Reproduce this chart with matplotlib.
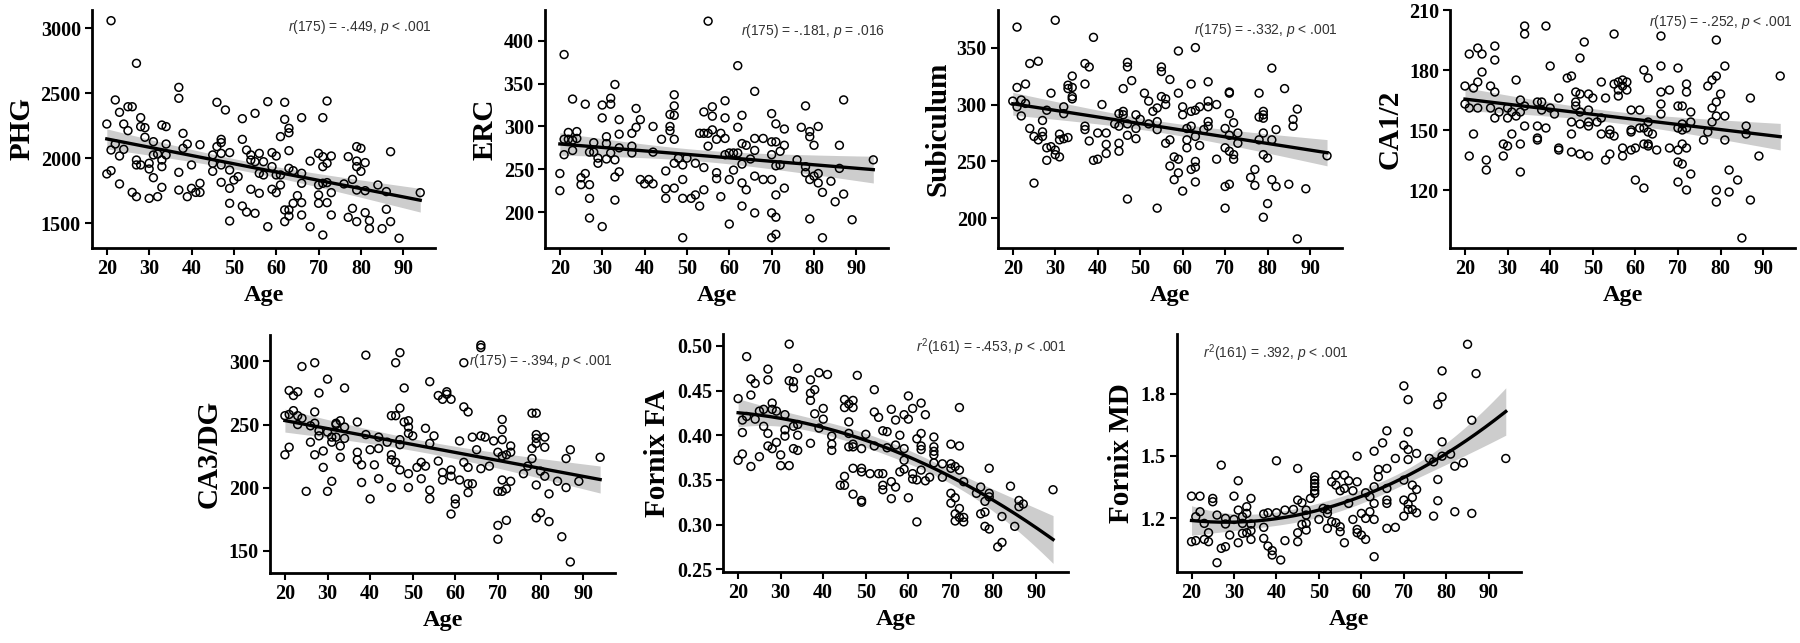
import numpy as np
import matplotlib.pyplot as plt

plt.rcParams['font.family'] = 'Liberation Serif'
plt.rcParams['font.weight'] = 'bold'
plt.rcParams['mathtext.fontset'] = 'custom'
plt.rcParams['mathtext.rm'] = 'Liberation Sans:normal'
plt.rcParams['mathtext.it'] = 'Liberation Sans:italic:normal'

# (age, value) pairs, one list per panel
phg_points = [(21,3059),(27,2731),(20,2264),(21,1905),(20,1880),(22,2449),(23,2354),(24,2264),(25,2213),(25,2397),
    (26,2397),(28,2313),(28,2244),(29,2236),(29,2162),(22,2110),(21,2064),(23,2018),(24,2069),(27,1987),(27,1949),
    (28,1949),(30,1962),(30,1918),(23,1803),(26,1738),(27,1705),(30,1692),(31,1851),(31,2128),(32,1705),(33,1777),
    (33,2256),(34,2244),(34,2110),(34,2026),(33,1987),(33,1936),(32,2033),(31,2026),(37,2546),(37,2462),(38,2192),
    (38,2077),(39,2110),(37,1892),(37,1756),(39,1705),(40,1949),(40,1769),(41,1738),(42,1738),(42,1808),(42,2105),
    (46,2431),(48,2372),(45,2026),(45,1962),(45,1900),(46,2090),(47,2146),(47,2121),(47,2038),(47,1949),(47,1815),
    (49,2044),(49,1910),(49,1769),(49,1654),(49,1518),(50,1833),(51,1859),(52,2305),(52,2146),(52,1633),(53,1587),
    (53,2064),(54,2026),(54,1987),(54,1762),(55,2346),(55,1577),(55,1974),(56,2038),(56,1885),(56,1731),(57,1974),
    (57,1872),(58,1474),(58,2436),(59,2044),(59,1936),(59,1762),(60,2018),(60,1872),(60,1736),(61,2167),(61,1872),
    (61,1795),(62,2431),(62,2300),(62,1603),(62,1513),(63,2231),(63,2197),(63,2059),(63,1923),(63,1603),(63,1556),
    (64,1654),(64,1905),(65,1713),(66,2313),(66,1885),(66,1808),(66,1659),(66,1564),(68,1474),(68,1979),(70,2038),
    (70,1795),(70,1718),(70,1654),(71,2313),(71,2013),(71,1936),(71,1808),(71,1410),(72,2441),(72,1962),(72,1813),
    (72,1659),(73,2018),(73,1736),(73,1564),(76,1803),(77,2013),(77,1546),(78,1838),(78,1615),(79,2090),(79,1979),
    (79,1936),(79,1756),(79,1513),(80,2077),(80,1900),(81,1967),(81,1751),(81,1582),(82,1521),(82,1459),(84,1795),
    (85,1459),(86,1744),(86,1608),(87,2051),(87,1513),(89,1385),(94,1736)]

erc_points = [(55,423),(21,384),(62,371),(20,245),(20,225),(21,267),(21,285),(22,293),(22,285),(23,332),(23,272),
    (23,284),(24,294),(24,286),(25,240),(25,232),(26,326),(26,245),(27,270),(27,232),(27,216),(27,193),(28,281),
    (28,270),(29,263),(29,257),(30,325),(30,310),(30,183),(31,288),(31,280),(31,262),(32,333),(32,326),(32,269),
    (33,349),(33,261),(33,241),(33,214),(34,308),(34,291),(34,275),(34,247),(37,292),(37,277),(37,269),(38,321),
    (38,299),(39,308),(39,238),(40,233),(41,238),(42,300),(42,270),(42,233),(44,285),(45,248),(45,227),(45,216),
    (46,314),(46,300),(46,295),(47,337),(47,324),(47,313),(47,285),(47,257),(47,228),(48,263),(49,255),(49,238),
    (49,216),(49,170),(50,263),(51,216),(52,257),(52,220),(53,292),(53,207),(54,292),(54,317),(54,252),(54,226),
    (55,292),(55,277),(56,323),(56,312),(56,296),(57,285),(57,246),(57,239),(58,292),(58,218),(59,330),(59,310),
    (59,286),(59,267),(60,269),(60,238),(60,186),(61,269),(61,249),(62,299),(62,269),(63,313),(63,280),(63,256),
    (63,234),(63,207),(64,226),(64,278),(65,262),(66,341),(66,286),(66,272),(66,242),(66,199),(68,286),(68,238),
    (70,315),(70,282),(70,267),(70,238),(70,199),(70,170),(71,303),(71,282),(71,254),(71,220),(71,194),(71,174),
    (72,271),(72,255),(73,297),(73,278),(73,228),(76,261),(77,299),(78,324),(78,253),(78,246),(79,294),(79,288),
    (79,238),(79,192),(80,278),(80,242),(81,300),(81,245),(81,234),(82,223),(82,170),(84,236),(85,212),(86,278),
    (86,251),(87,331),(87,221),(89,191),(94,261)]

sub_points = [(30,374),(21,368),(39,359),(63,350),(59,347),(24,336),(26,338),(37,336),(38,333),(47,337),(47,333),
    (55,333),(55,329),(81,332),(21,315),(23,318),(20,303),(21,298),(22,304),(22,290),(23,301),(24,279),(25,272),
    (25,231),(26,269),(27,286),(27,276),(27,272),(28,295),(28,262),(28,251),(29,310),(29,263),(30,260),(30,256),
    (31,274),(31,269),(31,254),(32,298),(32,292),(32,270),(33,317),(33,314),(33,271),(34,325),(34,315),(34,307),
    (34,305),(37,318),(37,281),(37,278),(38,268),(40,275),(39,251),(40,252),(41,300),(42,275),(42,265),(42,257),
    (44,283),(45,292),(45,281),(45,266),(45,259),(46,314),(46,294),(46,291),(47,283),(47,273),(47,217),(48,321),
    (49,291),(49,279),(49,270),(50,287),(51,310),(52,303),(52,283),(53,294),(54,297),(54,285),(54,278),(54,209),
    (55,307),(56,305),(56,300),(56,266),(57,322),(57,269),(57,246),(58,254),(58,234),(59,310),(59,252),(59,240),
    (60,298),(60,291),(60,224),(61,279),(61,269),(61,262),(62,318),(62,294),(62,281),(62,243),(63,295),(63,272),
    (63,250),(63,245),(63,232),(64,298),(64,264),(65,278),(66,320),(66,303),(66,298),(66,285),(66,281),(68,300),
    (68,252),(70,279),(70,262),(70,228),(70,209),(71,311),(71,310),(71,292),(71,273),(71,259),(71,230),(72,284),
    (72,256),(72,252),(73,275),(73,266),(76,236),(77,243),(77,229),(78,310),(78,289),(78,269),(79,294),(79,291),
    (79,288),(79,275),(79,256),(79,201),(80,253),(80,213),(81,269),(81,234),(82,278),(82,228),(84,314),(85,230),
    (86,287),(86,281),(87,296),(87,182),(89,226),(94,255)]

ca12_points = [(34,202),(39,202),(34,198),(55,198),(66,197),(79,195),(48,194),(23,191),(27,192),(21,188),(24,188),
    (27,185),(47,186),(40,182),(66,182),(70,181),(81,182),(24,179),(20,172),(22,171),(23,174),(26,172),(27,169),
    (32,175),(44,176),(45,177),(46,169),(47,168),(49,168),(50,166),(42,166),(52,174),(53,166),(55,173),(56,174),
    (56,170),(56,167),(57,175),(57,172),(58,174),(58,170),(62,180),(63,176),(66,169),(66,163),(66,158),(68,170),
    (72,173),(72,169),(77,172),(78,175),(79,177),(80,168),(79,164),(78,161),(94,177),(87,166),(20,163),(21,161),
    (23,161),(22,148),(21,137),(25,135),(25,130),(26,161),(27,156),(28,159),(29,143),(29,137),(30,161),(30,156),
    (30,142),(31,159),(31,148),(32,157),(33,165),(33,159),(33,143),(33,129),(34,162),(34,152),(37,164),(37,152),
    (37,146),(37,145),(38,164),(38,160),(39,151),(40,161),(41,158),(42,141),(42,140),(45,154),(45,148),(45,139),
    (46,164),(46,162),(47,159),(47,153),(47,138),(49,160),(49,154),(49,152),(49,137),(51,154),(52,156),(52,148),
    (53,135),(54,150),(54,148),(54,138),(55,147),(57,141),(57,137),(59,160),(59,150),(59,149),(59,140),(60,141),
    (60,125),(61,160),(61,151),(62,151),(62,143),(62,121),(63,154),(63,149),(63,143),(63,142),(64,148),(65,140),
    (68,141),(70,162),(70,151),(70,140),(70,134),(70,124),(71,162),(71,153),(71,150),(71,143),(71,133),(72,141),
    (72,151),(72,120),(73,159),(73,154),(73,128),(76,145),(77,149),(78,154),(79,157),(79,120),(79,114),(81,157),
    (81,145),(82,130),(82,119),(84,125),(85,96),(86,152),(86,148),(87,115),(89,137)]

ca3_points = [(66,313),(66,311),(62,299),(39,305),(47,307),(46,299),(24,296),(27,299),(30,286),(28,275),(21,277),
    (23,276),(22,273),(34,279),(48,279),(54,284),(56,273),(58,276),(58,274),(57,270),(59,270),(62,264),(63,260),
    (20,257),(21,258),(22,261),(23,257),(23,250),(24,255),(27,260),(27,251),(26,249),(28,245),(28,241),(30,244),
    (31,240),(32,250),(33,253),(33,233),(34,248),(34,239),(32,251),(37,252),(37,228),(37,222),(39,242),(40,230),
    (42,240),(42,231),(44,236),(45,226),(45,222),(45,257),(46,257),(47,263),(47,238),(47,234),(48,252),(49,253),
    (49,248),(49,243),(50,241),(49,211),(49,200),(51,216),(52,207),(52,220),(53,247),(53,217),(54,235),(54,198),
    (54,191),(55,241),(56,221),(57,212),(57,206),(59,214),(59,209),(59,179),(60,191),(60,187),(61,237),(61,206),
    (62,220),(63,216),(63,203),(63,196),(64,203),(64,240),(65,230),(66,241),(66,215),(67,240),(68,217),(69,237),
    (70,228),(70,197),(70,170),(70,159),(71,254),(71,246),(71,238),(71,225),(71,206),(71,197),(72,226),(72,199),
    (72,174),(73,233),(73,228),(73,205),(76,211),(77,217),(78,259),(78,231),(78,223),(79,259),(79,242),(79,239),
    (79,235),(79,202),(79,176),(80,213),(80,180),(81,240),(81,232),(81,209),(82,195),(82,173),(84,205),(85,161),
    (86,223),(86,200),(87,230),(87,141),(89,205),(94,224),(31,205),(30,197),(25,197),(20,226),(21,232),(26,236),
    (29,216),(29,229),(27,226),(31,236),(32,240),(33,224),(38,218),(38,204),(40,191),(41,218),(42,207),(45,200),
    (46,220),(47,214)]

fa_points = [(32,0.502),(22,0.488),(20,0.441),(27,0.474),(27,0.462),(23,0.463),(24,0.458),(23,0.445),(21,0.417),
    (22,0.421),(24,0.418),(25,0.427),(26,0.429),(28,0.429),(28,0.436),(29,0.427),(31,0.423),(32,0.461),(33,0.460),
    (33,0.453),(34,0.475),(34,0.412),(33,0.410),(31,0.406),(31,0.399),(34,0.400),(34,0.383),(33,0.385),(29,0.392),
    (28,0.385),(27,0.388),(27,0.402),(26,0.410),(21,0.403),(20,0.372),(21,0.379),(25,0.376),(23,0.365),(30,0.378),
    (30,0.366),(32,0.366),(37,0.462),(38,0.451),(37,0.447),(37,0.439),(39,0.470),(41,0.468),(40,0.430),(40,0.418),
    (38,0.424),(39,0.408),(37,0.391),(42,0.399),(42,0.390),(42,0.383),(45,0.440),(45,0.431),(47,0.439),(47,0.431),
    (46,0.435),(48,0.467),(46,0.415),(46,0.402),(46,0.387),(47,0.390),(47,0.387),(49,0.385),(45,0.354),(44,0.344),
    (45,0.344),(47,0.363),(49,0.363),(49,0.359),(51,0.357),(47,0.334),(49,0.327),(49,0.325),(50,0.401),(52,0.451),
    (52,0.426),(52,0.388),(53,0.420),(53,0.357),(54,0.357),(54,0.405),(55,0.404),(55,0.386),(54,0.344),(54,0.339),
    (56,0.429),(56,0.348),(56,0.329),(57,0.417),(57,0.389),(57,0.342),(58,0.400),(58,0.359),(59,0.423),(59,0.385),
    (59,0.372),(59,0.362),(60,0.444),(60,0.418),(60,0.330),(61,0.430),(61,0.357),(61,0.351),(62,0.396),(62,0.303),
    (62,0.350),(63,0.436),(63,0.402),(63,0.388),(63,0.384),(63,0.361),(64,0.423),(64,0.349),(65,0.353),(66,0.398),
    (66,0.387),(66,0.382),(66,0.378),(66,0.369),(68,0.368),(68,0.353),(70,0.390),(70,0.368),(70,0.363),(70,0.335),
    (70,0.324),(71,0.365),(71,0.330),(71,0.312),(71,0.304),(72,0.431),(72,0.388),(72,0.361),(72,0.318),(72,0.308),
    (73,0.348),(73,0.308),(73,0.303),(76,0.335),(77,0.342),(77,0.312),(78,0.326),(78,0.314),(78,0.298),(79,0.363),
    (79,0.335),(79,0.331),(79,0.295),(81,0.275),(82,0.280),(82,0.309),(84,0.343),(85,0.298),(86,0.327),(86,0.320),
    (87,0.323),(94,0.339)]

md_points = [(85,2.037),(79,1.909),(87,1.896),(70,1.837),(71,1.771),(79,1.784),(78,1.747),(86,1.672),(66,1.621),
    (71,1.616),(65,1.563),(70,1.552),(71,1.531),(79,1.568),(63,1.523),(59,1.499),(68,1.488),(71,1.483),(73,1.512),
    (76,1.488),(77,1.472),(79,1.499),(81,1.509),(82,1.451),(84,1.467),(94,1.488),(40,1.477),(27,1.456),(45,1.440),
    (64,1.435),(66,1.440),(64,1.400),(54,1.408),(56,1.408),(53,1.376),(54,1.360),(55,1.333),(56,1.344),(57,1.381),
    (59,1.376),(58,1.333),(49,1.400),(49,1.384),(49,1.368),(49,1.352),(49,1.333),(49,1.320),(31,1.381),(30,1.307),
    (34,1.296),(20,1.307),(22,1.307),(25,1.296),(25,1.280),(45,1.288),(46,1.275),(48,1.296),(63,1.352),(61,1.323),
    (62,1.304),(63,1.272),(66,1.288),(66,1.272),(66,1.344),(70,1.288),(70,1.384),(71,1.269),(72,1.360),(72,1.301),
    (73,1.339),(71,1.243),(72,1.243),(73,1.227),(70,1.211),(78,1.387),(78,1.285),(77,1.211),(82,1.232),(86,1.224),
    (62,1.232),(61,1.200),(60,1.224),(63,1.195),(57,1.272),(52,1.243),(52,1.224),(51,1.248),(50,1.195),(47,1.240),
    (47,1.216),(46,1.171),(47,1.176),(47,1.144),(45,1.131),(45,1.088),(44,1.243),(42,1.240),(40,1.227),(38,1.227),
    (37,1.221),(37,1.157),(37,1.104),(38,1.067),(39,1.045),(39,1.024),(41,1.000),(42,1.093),(56,1.083),(63,1.016),
    (52,1.152),(53,1.184),(54,1.179),(55,1.160),(55,1.136),(58,1.195),(59,1.147),(59,1.131),(60,1.120),(61,1.099),
    (66,1.152),(68,1.157),(20,1.088),(21,1.093),(21,1.208),(22,1.232),(23,1.176),(23,1.099),(24,1.131),(24,1.088),
    (26,0.987),(26,1.216),(27,1.056),(28,1.064),(28,1.200),(28,1.173),(29,1.120),(30,1.195),(31,1.240),(31,1.083),
    (32,1.208),(32,1.128),(33,1.224),(33,1.256),(33,1.131),(34,1.173),(34,1.141),(34,1.099),(32,1.176)]

x_ticks = [20, 30, 40, 50, 60, 70, 80, 90]

panels = [
    dict(label='PHG', pts=phg_points, deg=1, ylim=(1310, 3141), yticks=[1500, 2000, 2500, 3000], fmt='{:.0f}',
         note='$r$(175) = -.449, $p$ < .001', npos=(0.99, 0.93), ha='right', rect=[0.0511, 0.6143, 0.1906, 0.3701]),
    dict(label='ERC', pts=erc_points, deg=1, ylim=(158, 436), yticks=[200, 250, 300, 350, 400], fmt='{:.0f}',
         note='$r$(175) = -.181, $p$ = .016', npos=(0.99, 0.91), ha='right', rect=[0.3028, 0.6143, 0.1906, 0.3701]),
    dict(label='Subiculum', pts=sub_points, deg=1, ylim=(174, 383), yticks=[200, 250, 300, 350], fmt='{:.0f}',
         note='$r$(175) = -.332, $p$ < .001', npos=(0.99, 0.915), ha='right', rect=[0.5544, 0.6143, 0.1911, 0.3701]),
    dict(label='CA1/2', pts=ca12_points, deg=1, ylim=(91, 210), yticks=[120, 150, 180, 210], fmt='{:.0f}',
         note='$r$(175) = -.252, $p$ < .001', npos=(0.995, 0.95), ha='right', rect=[0.8056, 0.6143, 0.1917, 0.3701]),
    dict(label='CA3/DG', pts=ca3_points, deg=1, ylim=(132, 321), yticks=[150, 200, 250, 300], fmt='{:.0f}',
         note='$r$(175) = -.394, $p$ < .001', npos=(0.995, 0.89), ha='right', rect=[0.15, 0.1084, 0.1917, 0.3706]),
    dict(label='Fornix FA', pts=fa_points, deg=2, ylim=(0.2466, 0.513), yticks=[0.25, 0.30, 0.35, 0.40, 0.45, 0.50],
         fmt='{:.2f}', note='$r^2$(161) = -.453, $p$ < .001', npos=(0.995, 0.945), ha='right',
         rect=[0.4018, 0.11, 0.1915, 0.3701]),
    dict(label='Fornix MD', pts=md_points, deg=2, ylim=(0.941, 2.085), yticks=[1.2, 1.5, 1.8], fmt='{:.1f}',
         note='$r^2$(161) = .392, $p$ < .001', npos=(0.076, 0.92), ha='left', rect=[0.6537, 0.11, 0.1911, 0.3701]),
]


def fit_band(x, y, deg, xs):
    X = np.vander(x, deg + 1)
    coef = np.linalg.lstsq(X, y, rcond=None)[0]
    resid = y - X @ coef
    s2 = resid @ resid / (len(y) - deg - 1)
    cov = s2 * np.linalg.inv(X.T @ X)
    Xs = np.vander(xs, deg + 1)
    se = np.sqrt(np.einsum('ij,jk,ik->i', Xs, cov, Xs))
    return Xs @ coef, 1.97 * se


fig = plt.figure(figsize=(18, 6.43), dpi=100)

for p in panels:
    ax = fig.add_axes(p['rect'])
    age, val = np.array(p['pts'], dtype=float).T
    xs = np.linspace(age.min(), age.max(), 200)
    yhat, ci = fit_band(age, val, p['deg'], xs)

    ax.fill_between(xs, yhat - ci, yhat + ci, color='#cdcdcd', lw=0, zorder=1)
    ax.scatter(age, val, s=32, facecolors='none', edgecolors='black', linewidths=1.1, zorder=2)
    ax.plot(xs, yhat, color='black', lw=2.4, zorder=3)

    ax.set_xlim(16.5, 97.5)
    ax.set_ylim(*p['ylim'])
    ax.set_xticks(x_ticks)
    ax.set_yticks(p['yticks'])
    ax.set_yticklabels([p['fmt'].format(t) for t in p['yticks']])
    for s in ['top', 'right']:
        ax.spines[s].set_visible(False)
    for s in ['left', 'bottom']:
        ax.spines[s].set_linewidth(2)
    ax.tick_params(direction='out', length=5, width=1.5, labelsize=14.5, pad=3)
    for lab in ax.get_xticklabels() + ax.get_yticklabels():
        lab.set_fontweight('bold')

    ax.set_xlabel('Age', fontsize=17.5, fontweight='bold', labelpad=4)
    ax.set_ylabel(p['label'], fontsize=21, fontweight='bold', labelpad=4)
    ax.text(p['npos'][0], p['npos'][1], p['note'], transform=ax.transAxes, ha=p['ha'], va='center',
            fontsize=10, family='Liberation Sans', fontweight='normal', color='#333333')

fig.savefig('out.png', dpi=100)
